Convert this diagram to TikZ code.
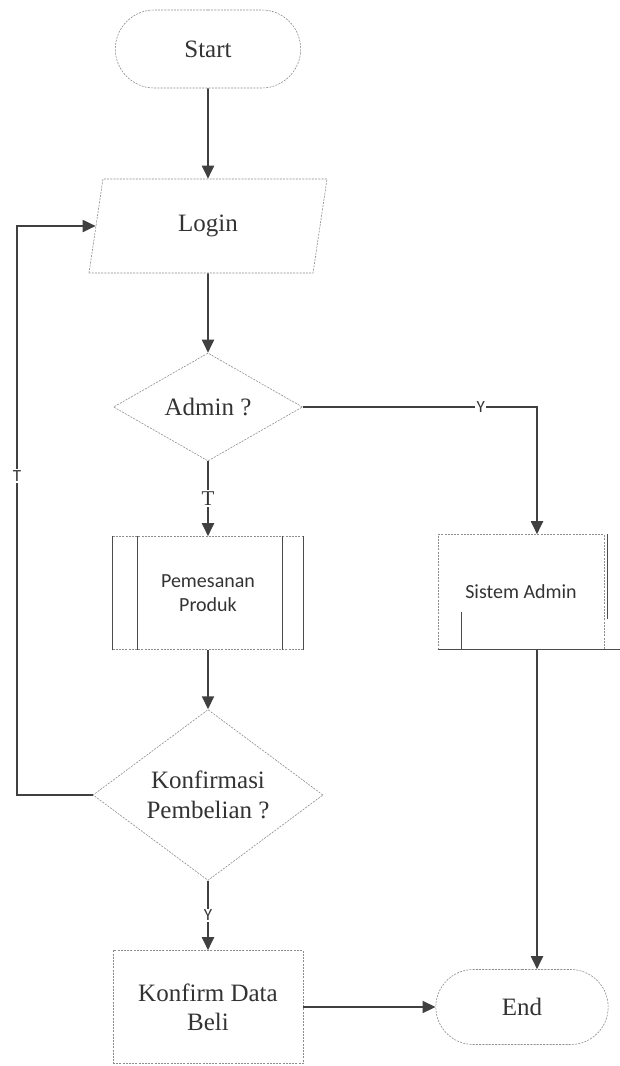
\documentclass[tikz,border=0pt]{standalone}
\usepackage{fontspec}
\setmainfont{Liberation Serif}
\setsansfont{Carlito}
\usetikzlibrary{shapes.geometric,shapes.misc,arrows.meta}

\begin{document}
\begin{tikzpicture}[x=1pt, y=-1pt,
	dashbox/.style={draw=black!45, dash pattern=on 2pt off 1.2pt, line width=0.6pt, text=black!80},
	terminal/.style={dashbox, rounded rectangle, minimum width=192pt, minimum height=78pt, font=\fontsize{25}{30}\selectfont},
	io/.style={dashbox, trapezium, trapezium left angle=64, trapezium right angle=116, trapezium stretches body, minimum width=238pt, minimum height=94pt, font=\fontsize{25}{30}\selectfont},
	decision/.style={dashbox, diamond, inner sep=0pt, minimum width=189pt, minimum height=108pt, align=center, font=\fontsize{25}{30}\selectfont},
	procbox/.style={dashbox, rectangle, minimum width=190pt, minimum height=113pt, align=center, font=\fontsize{25}{29}\selectfont},
	subbox/.style={dashbox, rectangle, minimum width=191pt, minimum height=113pt, align=center, font=\sffamily\fontsize{20}{24}\selectfont},
	sideline/.style={draw=black!70, line width=1pt},
	flow/.style={draw=black!75, line width=1.9pt, -{Triangle[width=12pt,length=13pt]}},
	lbl/.style={fill=white, inner sep=1.5pt, text=black!80, font=\sffamily\fontsize{17}{17}\selectfont},
]
	\useasboundingbox (0, 0) rectangle (620, 1066);

	\node [terminal] (Start) at (208, 49) {Start};
	\node [io] (Login) at (208, 226) {Login};
	\node [decision] (Admin) at (208, 407) {Admin ?};
	\node [subbox] (Pesan) at (208, 593) {Pemesanan\\Produk};
	\node [subbox, minimum width=166pt, minimum height=115pt] (SisAdm) at (521, 592) {Sistem Admin};
	\node [decision, minimum width=230pt, minimum height=134pt] (Konf) at (208, 795) {Konfirmasi\\Pembelian ?};
	\node [procbox] (KonfData) at (208, 1007) {Konfirm Data\\Beli};
	\node [terminal, minimum width=179pt, minimum height=75pt] (End) at (522, 1007) {End};
	\coordinate (LoopB) at (17, 795);

	\draw [sideline] (Pesan.north west) -- (Pesan.south west);
	\draw [sideline] ([xshift=25pt]Pesan.north west) -- ([xshift=25pt]Pesan.south west);
	\draw [sideline] (Pesan.north east) -- (Pesan.south east);
	\draw [sideline] ([xshift=-21pt]Pesan.north east) -- ([xshift=-21pt]Pesan.south east);
	\draw [sideline] ([xshift=3pt]SisAdm.north east) -- ++(0, 85);
	\draw [sideline] ([xshift=24pt]SisAdm.south west) -- ++(0, -38);
	\draw [sideline] (SisAdm.south west) -- ([xshift=16pt]SisAdm.south east);

	\draw [flow] (Start) -- (Login);
	\draw [flow] (Login) -- (Admin);
	\draw [flow] (Admin) -- node [lbl, font=\fontsize{21}{21}\selectfont] {T} (Pesan);
	\draw [flow] (Admin.east) -| node [lbl, pos=0.38] {Y} ([xshift=16pt]SisAdm.north);
	\draw [flow] (Pesan) -- (Konf);
	\draw [flow] (Konf) -- node [lbl] {Y} (KonfData);
	\draw [flow] (Konf.west) -- (LoopB) |- node [lbl, pos=0.28] {T} (Login);
	\draw [flow] ([xshift=16pt]SisAdm.south) -- ([xshift=16pt]SisAdm.south |- End.north);
	\draw [flow] (KonfData) -- (End);
\end{tikzpicture}
\end{document}
